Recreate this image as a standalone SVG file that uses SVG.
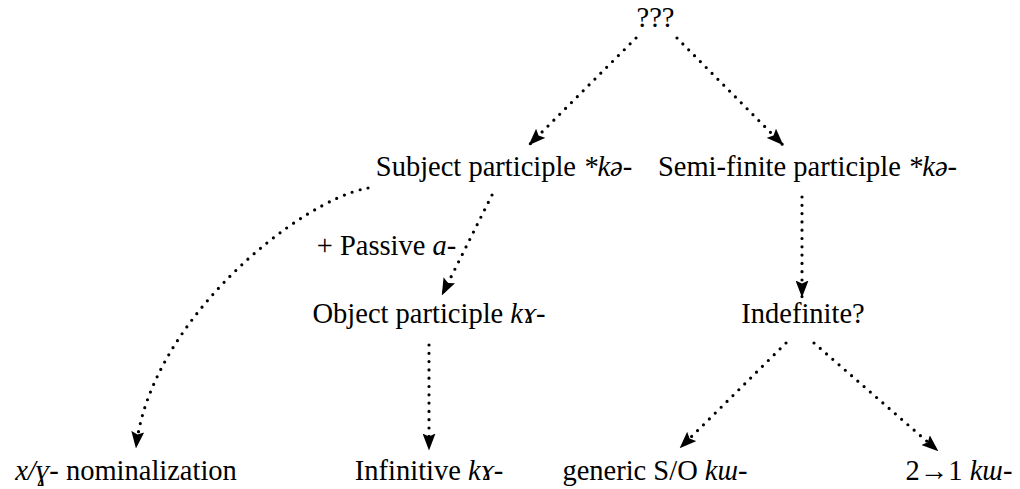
<svg xmlns="http://www.w3.org/2000/svg" width="1020" height="489" viewBox="0 0 1020 489">
<style>
text{font-family:"Liberation Serif","DejaVu Serif",serif;font-size:28.5px;fill:#000;text-anchor:middle}
.i{font-style:italic}
.e{fill:none;stroke:#000;stroke-width:3.2;stroke-linecap:round;stroke-dasharray:0 8.3;marker-end:url(#ah)}
</style>
<defs>
<marker id="ah" markerUnits="userSpaceOnUse" viewBox="0 0 17 13" refX="16.5" refY="6.5" markerWidth="17" markerHeight="13" orient="auto">
<path d="M0,0 L17,6.5 L0,13 L3,6.5 Z" fill="#000"/>
</marker>
</defs>
<g id="connectors">
<path class="e" d="M636 38 L529 145"/>
<path class="e" d="M677 38 L783 145"/>
<path class="e" d="M368 188 C300 200 150 320 136 448"/>
<path class="e" d="M492 195 L442 295"/>
<path class="e" d="M429 345 L429 450"/>
<path class="e" d="M802 197 L802 297"/>
<path class="e" d="M786 343 L680 448"/>
<path class="e" d="M814 343 L938 451"/>
</g>
<g id="root"><text x="655.5" y="27">???</text></g>
<g id="subject"><text x="504" y="176">Subject participle <tspan class="i">*kə-</tspan></text></g>
<g id="semifinite"><text x="807.5" y="176">Semi-finite participle <tspan class="i">*kə-</tspan></text></g>
<g id="passive"><text x="386.5" y="255">+ Passive <tspan class="i">a-</tspan></text></g>
<g id="object"><text x="429" y="323">Object participle <tspan class="i">kɤ-</tspan></text></g>
<g id="indefinite"><text x="803" y="323">Indefinite?</text></g>
<g id="nominalization"><text x="126" y="480"><tspan class="i">x/ɣ-</tspan> nominalization</text></g>
<g id="infinitive"><text x="429" y="480">Infinitive <tspan class="i">kɤ-</tspan></text></g>
<g id="generic"><text x="655" y="480">generic S/O <tspan class="i">kɯ-</tspan></text></g>
<g id="twoone"><text x="959" y="480">2→1 <tspan class="i">kɯ-</tspan></text></g>
</svg>
